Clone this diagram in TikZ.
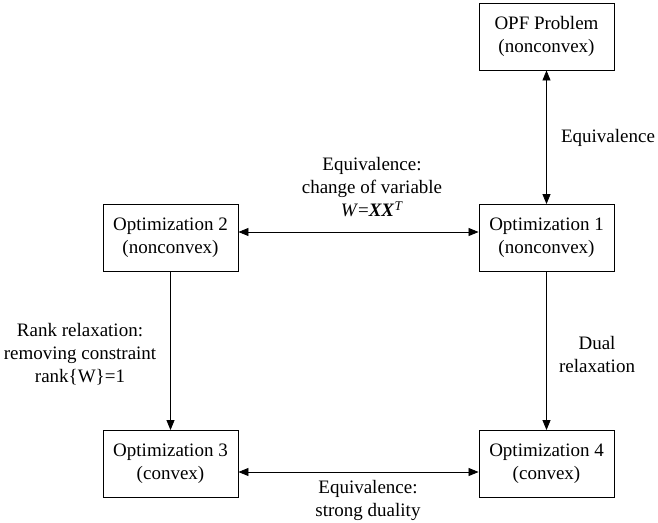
\documentclass[tikz,border=0pt]{standalone}
\usepackage{fontspec}
\setmainfont{Liberation Serif}
\usetikzlibrary{arrows.meta}

\tikzset{
  box/.style={draw, line width=0.9pt, minimum width=135pt, minimum height=67pt, align=center},
  oneway/.style={-{Triangle[length=10pt,width=8pt]}, line width=0.8pt},
  twoway/.style={{Triangle[length=10pt,width=8pt]}-{Triangle[length=10pt,width=8pt]}, line width=0.8pt},
  lbl/.style={align=center}
}

\begin{document}
\begin{tikzpicture}[x=1pt, y=-1pt, every node/.style={font=\fontsize{19}{23}\selectfont, inner sep=0pt}]
\useasboundingbox (0,0) rectangle (658,522);
% BOXES
\node[box] (opf)  at (546.5,36.5) {OPF Problem\\(nonconvex)};
\node[box] (opt1) at (546.5,238)  {Optimization 1\\(nonconvex)};
\node[box] (opt2) at (170.5,238)  {Optimization 2\\(nonconvex)};
\node[box] (opt3) at (170.5,464)  {Optimization 3\\(convex)};
\node[box] (opt4) at (546.5,464)  {Optimization 4\\(convex)};
% ARROWS
\draw[twoway] (opf) -- (opt1);
\draw[twoway] ([yshift=6pt]opt2.east) -- ([yshift=6pt]opt1.west);
\draw[oneway] (opt2) -- (opt3);
\draw[oneway] (opt1) -- (opt4);
\draw[twoway] ([yshift=-8pt]opt3.east) -- ([yshift=-8pt]opt4.west);
% LABELS
\node[lbl] (eqtop)  at (608,138) {Equivalence};
\node[lbl] (eqvar)  at (372,187) {Equivalence:\\change of variable\\\textit{W}=\textbf{\textit{XX}}\textsuperscript{\textit{T}}};
\node[lbl] (rank)   at (80,354)  {Rank relaxation:\\removing constraint\\rank\{W\}=1};
\node[lbl] (dual)   at (597,354) {Dual\\relaxation};
\node[lbl] (strong) at (368,500) {Equivalence:\\strong duality};
\end{tikzpicture}
\end{document}
